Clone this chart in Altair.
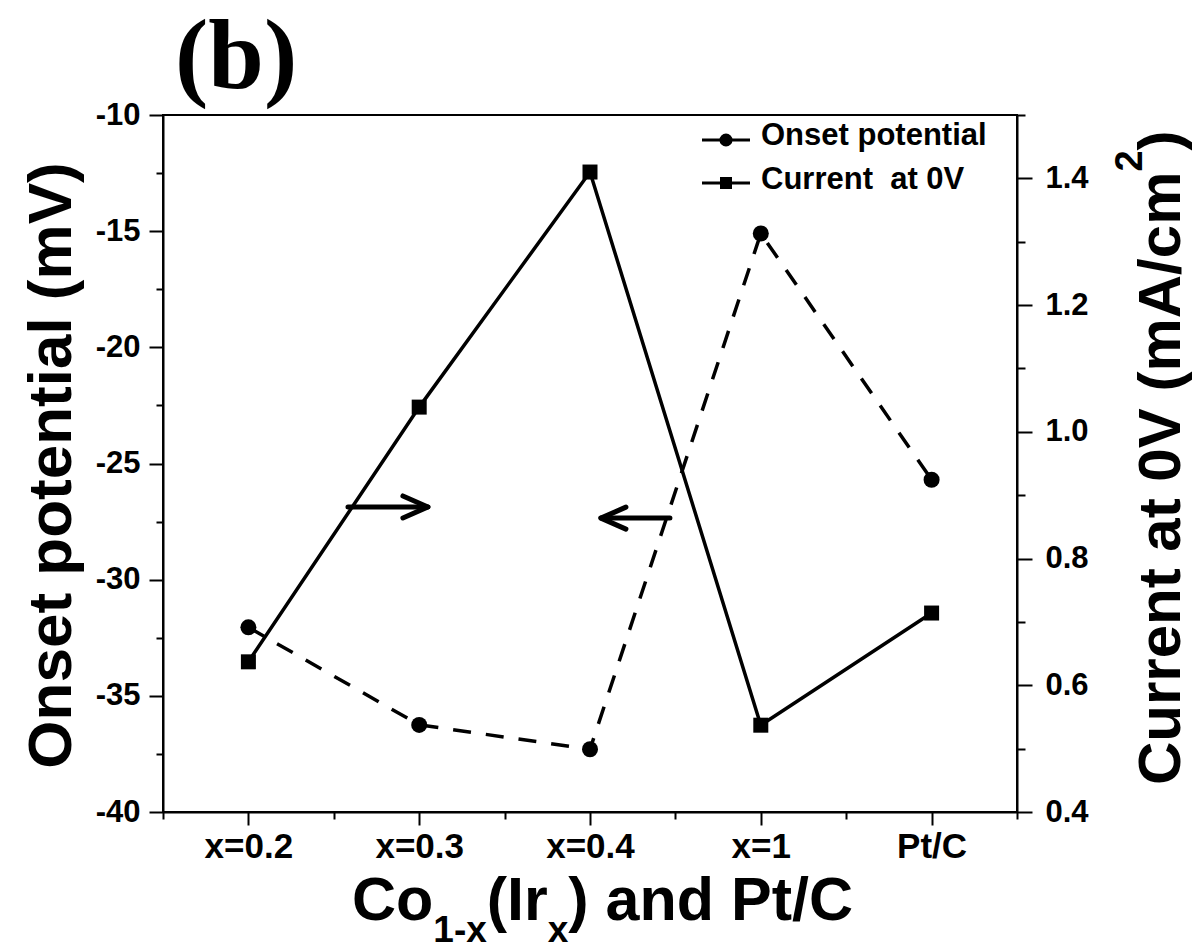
import altair as alt
import pandas as pd

# ---------------- data ----------------
categories = ["x=0.2", "x=0.3", "x=0.4", "x=1", "Pt/C"]
positions = [1, 2, 3, 4, 5]
onset_mv = [-32.05, -36.25, -37.3, -15.1, -25.7]
current_ma = [0.637, 1.039, 1.41, 0.537, 0.714]

x_ticks = [0.5, 1, 1.5, 2, 2.5, 3, 3.5, 4, 4.5, 5, 5.5]
left_ticks = [-40, -37.5, -35, -32.5, -30, -27.5, -25, -22.5, -20, -17.5, -15, -12.5, -10]
right_ticks = [0.4, 0.5, 0.6, 0.7, 0.8, 0.9, 1.0, 1.1, 1.2, 1.3, 1.4, 1.5]

arrow_start = [1.583, 3.468]
arrow_end = [2.051, 3.064]
arrow_level = [-26.87, -27.35]
arrow_dir = ["right", "left"]

legend_labels = ["Onset potential", "Current\u00a0 at 0V"]
panel_label = "(b)"
y_left_title = "Onset potential (mV)"
y_right_parts = ["Current at 0V (mA/cm", "2", ")"]
x_title_parts = ["Co", "1-x", "(Ir", "x", ") and Pt/C"]

# ---------------- styling helpers ----------------
FONT = "Liberation Sans"
SERIF = "Liberation Serif"
W, H = 854, 697
PAD = {"left": 163, "top": 115, "right": 179, "bottom": 139}

# Arial/Liberation Sans Bold advance widths (1/1000 em)
MET = {" ": 278, "(": 333, ")": 333, "-": 333, "/": 278, "0": 556, "1": 556, "2": 556,
       "C": 722, "I": 278, "P": 667, "a": 556, "c": 556, "d": 611, "e": 556, "m": 889,
       "n": 611, "o": 611, "r": 389, "t": 333, "u": 611, "x": 556, "V": 667, "A": 722}


def tw(s, size):
    return sum(MET.get(c, 556) for c in s) / 1000.0 * size


def label(text, x, y, size, font=FONT, angle=0, align="left", baseline="alphabetic"):
    return alt.Chart(pd.DataFrame({"t": [text]})).mark_text(
        font=font, fontSize=size, fontWeight="bold", color="black",
        align=align, baseline=baseline, angle=angle
    ).encode(x=alt.value(x), y=alt.value(y), text="t:N")


df = pd.DataFrame({"pos": positions, "cat": categories,
                   "onset": onset_mv, "current": current_ma})
arrows = pd.DataFrame({"xs": arrow_start, "xe": arrow_end,
                       "y": arrow_level, "dir": arrow_dir})

common_axis = dict(grid=False, labelFont=FONT, labelFontWeight="bold", labelColor="black",
                   labelFlush=False, labelOverlap=False, domainColor="black",
                   domainWidth=2, tickColor="black", tickWidth=2)

cat_js = "[" + ",".join("'" + c + "'" for c in categories) + "]"
x_axis = alt.Axis(
    values=x_ticks, title=None,
    labelExpr="datum.value % 1 === 0 ? " + cat_js + "[datum.value - 1] : ''",
    tickSize={"condition": {"test": "datum.value % 1 === 0", "value": 13}, "value": 7},
    labelFontSize=35, labelPadding=4, **common_axis)
x_scale = alt.Scale(domain=[0.5, 5.5], nice=False, zero=False)

left_axis = alt.Axis(
    values=left_ticks, orient="left", title=y_left_title,
    labelExpr="datum.value % 5 === 0 ? '' + datum.value : ''",
    tickSize={"condition": {"test": "datum.value % 5 === 0", "value": 14}, "value": 7},
    labelFontSize=31, labelPadding=9,
    titleFont=FONT, titleFontSize=62, titleFontWeight="bold", titleColor="black",
    titleAngle=270, titleAlign="center", titleBaseline="alphabetic",
    titleX=-93, titleY=350, **common_axis)
left_scale = alt.Scale(domain=[-40, -10], nice=False, zero=False)

right_axis = alt.Axis(
    values=right_ticks, orient="right", title=None,
    labelExpr="round(datum.value * 10) % 2 === 0 ? format(datum.value, '.1f') : ''",
    tickSize={"condition": {"test": "round(datum.value * 10) % 2 === 0", "value": 15}, "value": 8},
    labelFontSize=31, labelPadding=13, **common_axis)
right_scale = alt.Scale(domain=[0.4, 1.5], nice=False, zero=False)

X = alt.X("pos:Q", scale=x_scale, axis=x_axis)
Y_left = alt.Y("onset:Q", scale=left_scale, axis=left_axis)
Y_right = alt.Y("current:Q", scale=right_scale, axis=right_axis)

base = alt.Chart(df)
onset_line = base.mark_line(color="black", strokeWidth=3.5, strokeDash=[18, 15]).encode(x=X, y=Y_left)
onset_pts = base.mark_point(shape="circle", filled=True, size=256, color="black", opacity=1).encode(x=X, y=Y_left)

RIGHT_HEAD = "M-1,-0.44L0,0L-1,0.44"
LEFT_HEAD = "M1,-0.44L0,0L1,0.44"
shafts = alt.Chart(arrows).mark_rule(color="black", strokeWidth=5, strokeCap="round").encode(
    x=alt.X("xs:Q", scale=x_scale, axis=x_axis), x2="xe:Q",
    y=alt.Y("y:Q", scale=left_scale, axis=left_axis))
heads = alt.Chart(arrows).mark_point(
    filled=False, size=2500, color="black", strokeWidth=5, strokeCap="round",
    strokeJoin="round", opacity=1
).encode(
    x=alt.X("xe:Q", scale=x_scale, axis=x_axis),
    y=alt.Y("y:Q", scale=left_scale, axis=left_axis),
    shape=alt.Shape("dir:N", scale=alt.Scale(domain=["right", "left"], range=[RIGHT_HEAD, LEFT_HEAD]), legend=None))

cur_line = base.mark_line(color="black", strokeWidth=3.5).encode(x=X, y=Y_right)
cur_pts = base.mark_point(shape="square", filled=True, size=225, color="black", opacity=1).encode(x=X, y=Y_right)

annotations = []
# panel label
annotations.append(label(panel_label, 12, -27, 100, font=SERIF))

# legend (drawn inside top-right of the plot)
leg_rows = [(legend_labels[0], "circle", 170, 25, 30), (legend_labels[1], "square", 144, 68, 74)]
for text, shp, sz, ysym, ytxt in leg_rows:
    d = pd.DataFrame({"t": [text]})
    annotations.append(alt.Chart(d).mark_rule(color="black", strokeWidth=3).encode(
        x=alt.value(539), x2=alt.value(587), y=alt.value(ysym)))
    annotations.append(alt.Chart(d).mark_point(shape=shp, filled=True, size=sz, color="black", opacity=1).encode(
        x=alt.value(563), y=alt.value(ysym)))
    annotations.append(label(text, 598, ytxt, 31))

# x-axis title with subscripts
x_sizes = [61, 37, 61, 37, 61]
x_drops = [0, 22, 0, 22, 0]
cursor = 352 - PAD["left"]
base_y = 920 - PAD["top"]
for part, sz, dy in zip(x_title_parts, x_sizes, x_drops):
    annotations.append(label(part, cursor, base_y + dy, sz))
    cursor += tw(part, sz)

# right-axis title (rotated, reading upwards) with superscript
r_sizes = [60, 38, 60]
r_raise = [0, 38, 0]
base_x = 1180 - PAD["left"]
cy = 785 - PAD["top"]
for part, sz, rs in zip(y_right_parts, r_sizes, r_raise):
    annotations.append(label(part, base_x - rs, cy, sz, angle=270))
    cy -= tw(part, sz)

chart = alt.layer(
    alt.layer(onset_line, onset_pts, shafts, heads),
    alt.layer(cur_line, cur_pts),
    *annotations
).resolve_scale(y="independent").properties(
    width=W, height=H,
    autosize=alt.AutoSizeParams(type="none"),
    padding=PAD,
    background="white",
).configure_view(stroke="black", strokeWidth=2)

chart.save("out.html", embed_options={"renderer": "svg", "actions": False})
